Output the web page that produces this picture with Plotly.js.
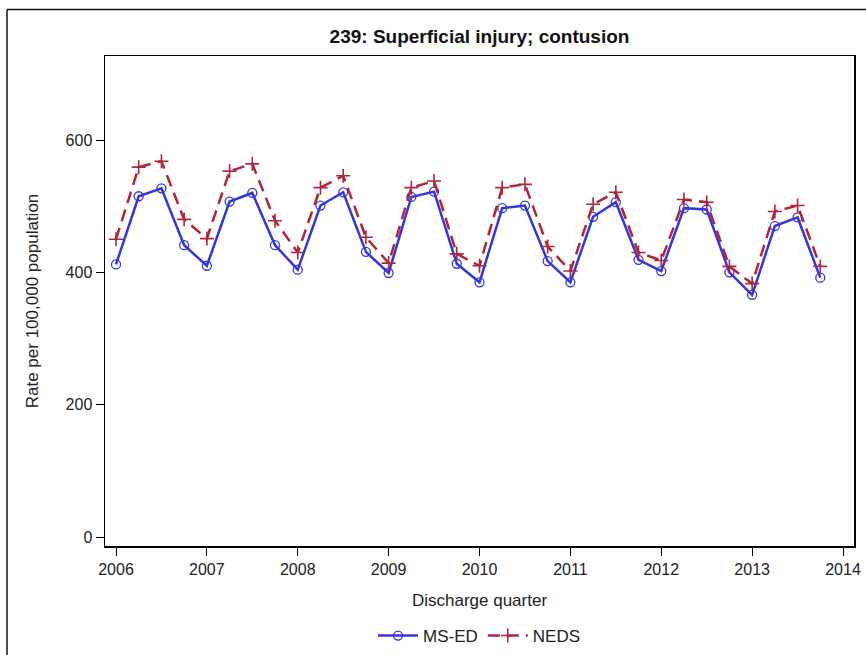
<!DOCTYPE html>
<html>
<head>
<meta charset="utf-8">
<script src="https://cdn.plot.ly/plotly-3.0.1.min.js"></script>
<style>
  html, body { margin: 0; padding: 0; background: #fff; }
  #chart { width: 866px; height: 655px; }
</style>
</head>
<body>
<div id="chart"></div>
<script>
// Discharge quarter (year + quarter fraction)
const quarters = [
  2006.0, 2006.25, 2006.5, 2006.75,
  2007.0, 2007.25, 2007.5, 2007.75,
  2008.0, 2008.25, 2008.5, 2008.75,
  2009.0, 2009.25, 2009.5, 2009.75,
  2010.0, 2010.25, 2010.5, 2010.75,
  2011.0, 2011.25, 2011.5, 2011.75,
  2012.0, 2012.25, 2012.5, 2012.75,
  2013.0, 2013.25, 2013.5, 2013.75
];
const msED = [
  412, 515, 527, 441,
  410, 507, 520, 441,
  404, 501, 521, 431,
  399, 514, 522, 413,
  385, 497, 501, 417,
  385, 484, 506, 419,
  402, 497, 495, 400,
  366, 470, 483, 392
];
const neds = [
  450, 559, 568, 480,
  451, 553, 564, 478,
  430, 528, 546, 453,
  414, 528, 538, 428,
  410, 528, 533, 439,
  402, 503, 521, 430,
  418, 510, 506, 409,
  383, 492, 501, 409
];
const xTicks = [2006, 2007, 2008, 2009, 2010, 2011, 2012, 2013, 2014];
const yTicks = [0, 200, 400, 600];

const sans = '"Liberation Sans", Arial, sans-serif';

const traces = [
  {
    x: quarters, y: msED, name: 'MS-ED', type: 'scatter', mode: 'lines+markers',
    line: { color: '#3535e0', width: 2.5 },
    marker: { symbol: 'circle-open', size: 9, color: '#3535e0', line: { width: 1.3 } }
  },
  {
    x: quarters, y: neds, name: 'NEDS', type: 'scatter', mode: 'lines+markers',
    line: { color: '#b2243a', width: 2.5, dash: '12px,7px' },
    marker: { symbol: 'cross-thin-open', size: 10, color: '#b2243a', line: { width: 1.6, color: '#b2243a' } }
  }
];

const layout = {
  width: 866, height: 655,
  margin: { l: 105, r: 12, t: 56, b: 109 },
  paper_bgcolor: '#fff', plot_bgcolor: '#fff',
  font: { family: sans, size: 16, color: '#222' },
  title: {
    text: '239: Superficial injury; contusion',
    font: { family: sans, size: 19, color: '#111', weight: 'bold' },
    x: 0.5, xref: 'paper', xanchor: 'center', y: 0.945, yref: 'container', yanchor: 'middle'
  },
  xaxis: {
    range: [2005.879, 2014.121], tickmode: 'array', tickvals: xTicks,
    ticktext: xTicks.map(String), automargin: false,
    ticks: 'outside', ticklen: 8, tickwidth: 1, tickcolor: '#000',
    showline: true, linecolor: '#000', linewidth: 1.5, mirror: true,
    showgrid: false, zeroline: false,
    tickfont: { family: sans, size: 16, color: '#222' },
    title: { text: 'Discharge quarter', font: { family: sans, size: 17, color: '#222' }, standoff: 17 }
  },
  yaxis: {
    range: [-13.6, 727], tickmode: 'array', tickvals: yTicks, automargin: false,
    ticks: 'outside', ticklen: 8, tickwidth: 1, tickcolor: '#000',
    showline: true, linecolor: '#000', linewidth: 1.5, mirror: true,
    showgrid: false, zeroline: false,
    tickfont: { family: sans, size: 16, color: '#222' },
    title: { text: 'Rate per 100,000 population', font: { family: sans, size: 17, color: '#222' }, standoff: 22 }
  },
  showlegend: true,
  legend: {
    orientation: 'h', x: 0.5, xanchor: 'center', xref: 'paper',
    y: 0.029, yanchor: 'middle', yref: 'container',
    font: { family: sans, size: 17, color: '#222' }, itemwidth: 40,
    bgcolor: 'rgba(0,0,0,0)'
  },
  shapes: [
    { type: 'line', xref: 'paper', yref: 'paper', x0: -0.1308, x1: 1.02, y0: 1.095, y1: 1.095,
      line: { color: '#111', width: 1.5 } },
    { type: 'line', xref: 'paper', yref: 'paper', x0: -0.1308, x1: -0.1308, y0: 1.095, y1: -0.23,
      line: { color: '#111', width: 1.5 } }
  ]
};

Plotly.newPlot('chart', traces, layout, { displayModeBar: false, staticPlot: true });
</script>
</body>
</html>
